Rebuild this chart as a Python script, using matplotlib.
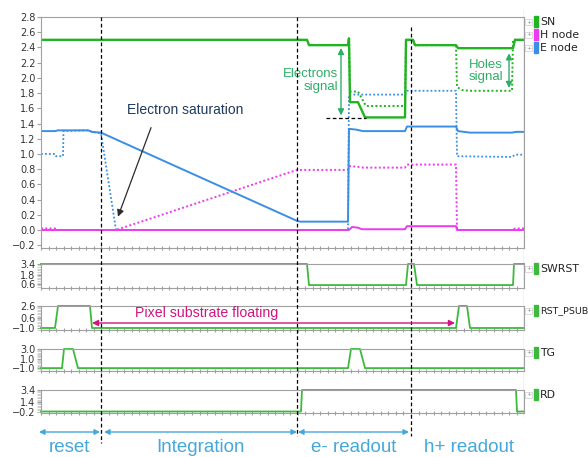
import matplotlib.pyplot as plt
from matplotlib.ticker import MultipleLocator, FixedLocator
from matplotlib.patches import Rectangle

# time axis: arbitrary units, 0 .. 483
T_END = 483

# main panel signals (solid = normal case, dotted = saturated case)
sn_t = [0, 266, 268, 307, 308, 309, 317, 324, 364, 365, 372, 374, 415, 417, 472, 474, 483]
sn_v = [2.5, 2.5, 2.43, 2.43, 2.52, 1.68, 1.68, 1.48, 1.48, 2.5, 2.5, 2.43, 2.43, 2.39, 2.39, 2.5, 2.5]
sn_dot_t = [307, 308, 309, 317, 325, 364, 365, 372, 374, 415, 416, 421, 429, 471, 472, 483]
sn_dot_v = [2.43, 2.52, 1.82, 1.82, 1.63, 1.63, 2.5, 2.5, 2.43, 2.43, 1.88, 1.84, 1.83, 1.83, 2.5, 2.5]

e_t = [0, 14, 17, 47, 51, 60, 256, 259, 307, 308, 315, 322, 364, 366, 415, 417, 429, 471, 475, 483]
e_v = [1.3, 1.3, 1.31, 1.31, 1.29, 1.28, 0.12, 0.11, 0.11, 1.33, 1.32, 1.30, 1.30, 1.36, 1.36, 1.30, 1.28, 1.28, 1.29, 1.29]
e_dot_t = [0, 14, 15, 22, 22.5, 47, 51, 60, 75, 307, 308, 364, 366, 415, 416, 471, 474, 483]
e_dot_v = [1.0, 1.0, 0.97, 0.97, 1.3, 1.31, 1.29, 1.27, 0.0, 0.0, 1.78, 1.78, 1.83, 1.83, 0.97, 0.96, 0.99, 0.99]

h_t = [0, 308, 311, 317, 321, 364, 366, 415, 416, 483]
h_v = [0.0, 0.0, 0.04, 0.03, 0.01, 0.01, 0.05, 0.05, 0.0, 0.0]
h_dot_t = [0, 14, 15, 75, 256, 307, 309, 317, 322, 364, 366, 415, 416, 471, 474, 483]
h_dot_v = [0.02, 0.02, 0.0, 0.0, 0.79, 0.79, 0.84, 0.83, 0.82, 0.82, 0.86, 0.86, 0.0, 0.0, 0.02, 0.02]

# control signals
swrst_t = [0, 266, 268, 365, 367, 373, 376, 472, 473, 483]
swrst_v = [3.4, 3.4, 0.45, 0.45, 3.4, 3.4, 0.45, 0.45, 3.4, 3.4]
psub_t = [0, 14, 17, 49, 51, 415, 418, 426, 429, 483]
psub_v = [-1.0, -1.0, 2.6, 2.6, -1.0, -1.0, 2.6, 2.6, -1.0, -1.0]
tg_t = [0, 21, 23, 32, 37, 307, 310, 319, 324, 483]
tg_v = [-1.0, -1.0, 3.0, 3.0, -1.0, -1.0, 3.0, 3.0, -1.0, -1.0]
rd_t = [0, 260, 261, 475, 476, 483]
rd_v = [-0.2, -0.2, 3.4, 3.4, -0.2, -0.2]

panel_names = ["SWRST", "RST_PSUB", "TG", "RD"]
panel_ticks = [[0.6, 1.8, 3.4], [-1.0, 0.6, 2.6], [-1.0, 1.0, 3.0], [-0.2, 1.4, 3.4]]
panel_ylim = [(0.04, 3.4), (-1.33, 2.6), (-1.5, 3.0), (-0.45, 3.4)]

phase_lines = [60, 256, 370]
phase_names = ["reset", "Integration", "e- readout", "h+ readout"]
phase_start = [-2, 63, 257, 371]
phase_end = [59, 256, 368, 484]

C_SN = "#22b322"
C_H = "#ee3aee"
C_E = "#3a8ee4"
C_CTRL = "#3dba3d"
C_GRID = "#a0a0a0"
C_PHASE = "#45a8dc"
C_SIG = "#2eae66"
DOT = (0, (1, 1.2))

W, H = 588, 457
fig = plt.figure(figsize=(W / 100, H / 100), dpi=100)


def px_axes(x0, y0, x1, y1):
    return fig.add_axes([x0 / W, 1 - y1 / H, (x1 - x0) / W, (y1 - y0) / H])


def style(ax):
    for s in ax.spines.values():
        s.set_color(C_GRID)
        s.set_linewidth(0.8)
    ax.set_xlim(0, T_END)
    ax.xaxis.set_major_locator(MultipleLocator(7.55))
    ax.tick_params(axis="x", direction="inout", length=3, color=C_GRID, labelbottom=False)
    ax.tick_params(axis="y", length=3, color=C_GRID, labelsize=7, labelcolor="#333333", pad=1)


# main panel
ax = px_axes(41, 17, 524, 247.5)
style(ax)
ax.set_ylim(-0.23, 2.8)
ax.yaxis.set_major_locator(FixedLocator([round(-0.2 + 0.2 * i, 1) for i in range(16)]))
ax.yaxis.set_major_formatter(lambda v, p: f"{v:.1f}".replace("-", "\u2212"))

ax.plot(e_dot_t, e_dot_v, color=C_E, lw=1.3, ls=DOT)
ax.plot(sn_dot_t, sn_dot_v, color=C_SN, lw=1.4, ls=DOT)
ax.plot(h_dot_t, h_dot_v, color=C_H, lw=1.4, ls=DOT)
ax.plot(e_t, e_v, color=C_E, lw=1.4)
ax.plot(h_t, h_v, color=C_H, lw=1.4)
ax.plot(sn_t, sn_v, color=C_SN, lw=1.7)

ax.plot([285, 325], [1.47, 1.47], color="black", lw=0.9, ls=(0, (3, 2)))
ax.annotate("", xy=(300, 1.47), xytext=(300, 2.43),
            arrowprops=dict(arrowstyle="<|-|>", color=C_SIG, lw=1.0, mutation_scale=9))
ax.text(297, 1.97, "Electrons\nsignal", color=C_SIG, fontsize=9.5, ha="right", va="center",
        family="Liberation Sans", linespacing=1.1)
ax.annotate("", xy=(468, 1.83), xytext=(468, 2.36),
            arrowprops=dict(arrowstyle="<|-|>", color=C_SIG, lw=1.0, mutation_scale=9))
ax.text(445, 2.09, "Holes\nsignal", color=C_SIG, fontsize=9.5, ha="center", va="center",
        family="Liberation Sans", linespacing=1.1)
ax.text(144, 1.58, "Electron saturation", color="#1f3a60", fontsize=10, ha="center", va="center",
        family="Liberation Sans")
ax.annotate("", xy=(76, 0.14), xytext=(111, 1.38),
            arrowprops=dict(arrowstyle="-|>", color="#2b2b2b", lw=0.9, mutation_scale=10))

# control panels
panel_data = [(swrst_t, swrst_v), (psub_t, psub_v), (tg_t, tg_v), (rd_t, rd_v)]
panel_px = [(264, 288), (306, 330), (349, 370.5), (390, 413)]
for (t, v), (y0, y1), ticks, lim in zip(panel_data, panel_px, panel_ticks, panel_ylim):
    pa = px_axes(41, y0, 524, y1)
    style(pa)
    pa.set_ylim(*lim)
    pa.set_yticks(ticks)
    pa.yaxis.set_major_formatter(lambda v, p: f"{v:.1f}".replace("-", "\u2212"))
    pa.yaxis.set_minor_locator(MultipleLocator(0.25))
    pa.tick_params(axis="y", which="minor", length=3, color="#c8c8c8")
    pa.plot(t, v, color=C_CTRL, lw=1.3, clip_on=False)

# overlay in pixel rows for annotations spanning panels
ov = fig.add_axes([41 / W, 0, 483 / W, 1])
ov.set_xlim(0, T_END)
ov.set_ylim(H, 0)
ov.axis("off")
ov.patch.set_alpha(0)
line_tops = [17, 17, 27]
line_bottoms = [443, 436, 436]
for x, y0, y1 in zip(phase_lines, line_tops, line_bottoms):
    ov.plot([x, x], [y0, y1], color="black", lw=0.9, ls=(0, (3, 2)))
ov.plot([T_END, T_END], [10, 417], color=C_GRID, lw=0.9)

for name, a, b in zip(phase_names, phase_start, phase_end):
    ov.annotate("", xy=(b, 432), xytext=(a, 432),
                arrowprops=dict(arrowstyle="<|-|>", color=C_PHASE, lw=1.0, mutation_scale=8,
                                shrinkA=0, shrinkB=0))
    ov.text((a + b) / 2, 447, name, color=C_PHASE, fontsize=13.5, ha="center", va="center",
            family="Liberation Sans")

ov.annotate("", xy=(414, 323), xytext=(51, 323),
            arrowprops=dict(arrowstyle="<|-|>", color="#d0157e", lw=1.0, mutation_scale=9,
                            shrinkA=0, shrinkB=0))
ov.text(166, 313, "Pixel substrate floating", color="#d0157e", fontsize=10.2, ha="center",
        va="center", family="Liberation Sans")

# legend / signal labels on the right
legend_rows = [("SN", C_SN, 22), ("H node", C_H, 35), ("E node", C_E, 48),
               ("SWRST", C_CTRL, 269), ("RST_PSUB", C_CTRL, 311), ("TG", C_CTRL, 353), ("RD", C_CTRL, 395)]
for name, col, y in legend_rows:
    fig.text(528.5 / W, 1 - y / H, "+", fontsize=4.5, color="#888888", ha="center", va="center",
             bbox=dict(boxstyle="square,pad=0.15", fc="white", ec="#cccccc", lw=0.5))
    fig.add_artist(Rectangle((534 / W, 1 - (y + 5) / H), 3.5 / W, 11 / H,
                             transform=fig.transFigure, color=col))
    fig.text(540 / W, 1 - y / H, name, fontsize=7.8 if len(name) < 7 else 6.8,
             color="#222222", ha="left", va="center")

fig.savefig("out.png", dpi=100)
